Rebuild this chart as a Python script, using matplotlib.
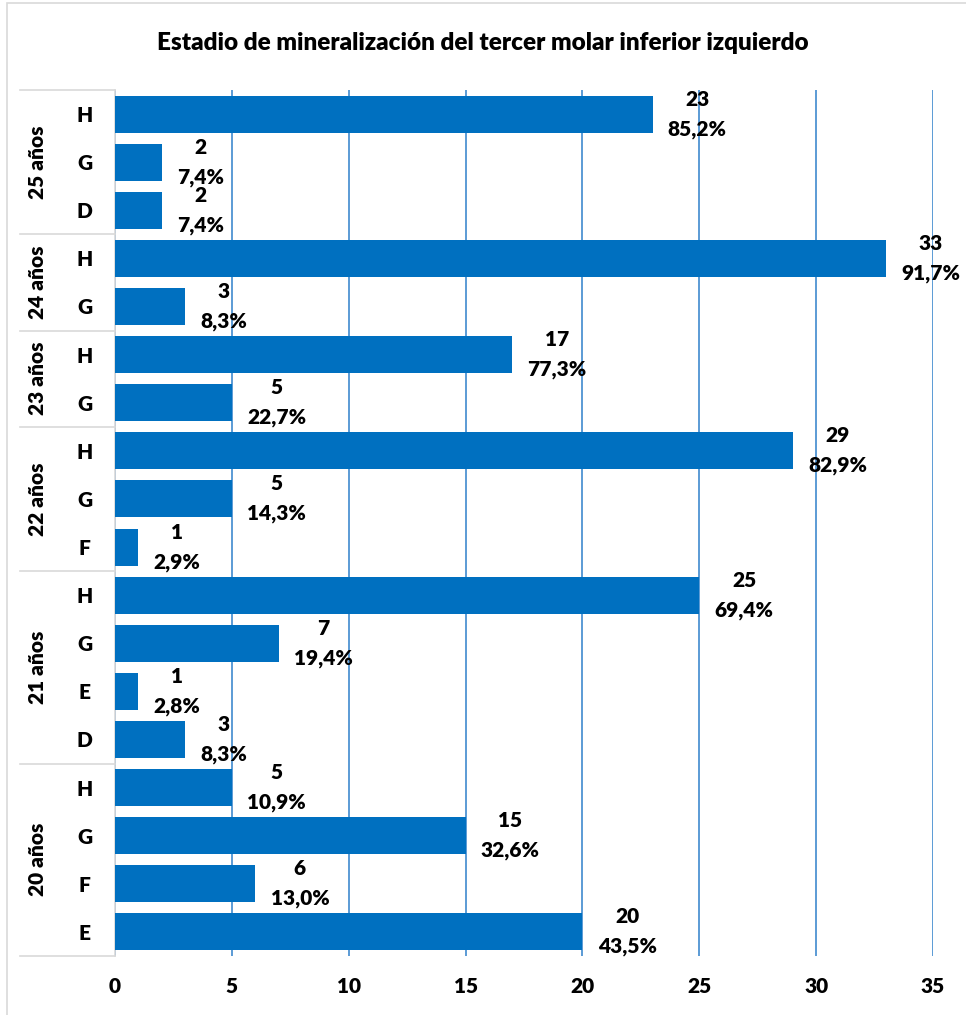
import matplotlib.pyplot as plt
from matplotlib.patches import Rectangle
import matplotlib.transforms as mtransforms

plt.rcParams['font.family'] = ['Lato', 'DejaVu Sans']
plt.rcParams['font.weight'] = 'heavy'

# rows from top to bottom
groups = ['25 años', '24 años', '23 años', '22 años', '21 años', '20 años']
stages = [['H', 'G', 'D'], ['H', 'G'], ['H', 'G'], ['H', 'G', 'F'],
          ['H', 'G', 'E', 'D'], ['H', 'G', 'F', 'E']]
counts = [[23, 2, 2], [33, 3], [17, 5], [29, 5, 1],
          [25, 7, 1, 3], [5, 15, 6, 20]]
pcts = [[85.2, 7.4, 7.4], [91.7, 8.3], [77.3, 22.7], [82.9, 14.3, 2.9],
        [69.4, 19.4, 2.8, 8.3], [10.9, 32.6, 13.0, 43.5]]

bar_col = '#0070C0'
grid_col = '#5B9BD5'
line_col = '#D9D9D9'

labels, vals, pc = [], [], []
for s, c, p in zip(stages, counts, pcts):
    labels += s
    vals += c
    pc += p
ypos = list(range(len(vals)))

fig = plt.figure(figsize=(9.66, 10.15), dpi=100)
fig.patches.append(Rectangle((7/966, -0.01), 1.0, 1 - 3/1015 + 0.01,
                             transform=fig.transFigure, fill=False,
                             edgecolor=line_col, linewidth=1.2))
ax = fig.add_axes([115/966, 1 - 956/1015, 818/966, 866/1015])

ax.barh(ypos, vals, height=0.77, color=bar_col, zorder=3)
ax.set_xlim(0, 35)
ax.set_ylim(len(vals) - 0.5, -0.5)
ax.set_xticks(range(0, 36, 5))
ax.set_yticks(ypos)
ax.set_yticklabels(labels, ha='center')
ax.tick_params(axis='y', length=0, pad=22, labelsize=15)
ax.tick_params(axis='x', length=0, pad=15, labelsize=15)
ax.grid(axis='x', color=grid_col, linewidth=1.4, zorder=0)
for sp in ['top', 'right', 'bottom']:
    ax.spines[sp].set_visible(False)
ax.spines['left'].set_color(line_col)
ax.spines['left'].set_linewidth(1.2)

# data labels: count over percentage
for y, v, p in zip(ypos, vals, pc):
    ax.annotate(f"{v}\n{p:.1f}%".replace('.', ','), xy=(v, y),
                xytext=(11, 0), textcoords='offset points',
                ha='left', va='center', multialignment='center',
                fontsize=15, fontweight='heavy', linespacing=1.65,
                zorder=5, annotation_clip=False)

# two-level category axis
trans = mtransforms.blended_transform_factory(ax.transAxes, ax.transData)
x_left = (20 - 115) / 818
start = 0
bounds = [-0.5]
for g, s in zip(groups, stages):
    end = start + len(s)
    bounds.append(end - 0.5)
    ax.text((38 - 115) / 818, (start + end - 1) / 2, g, transform=trans,
            rotation=90, ha='center', va='center', fontsize=15,
            fontweight='heavy')
    start = end
for b in bounds:
    ax.plot([x_left, 0], [b, b], transform=trans, color=line_col,
            linewidth=1.2, clip_on=False)

fig.text(0.5, 1 - 43/1015, 'Estadio de mineralización del tercer molar inferior izquierdo',
         ha='center', va='center', fontsize=17.5, fontweight='heavy')

fig.savefig('out.png', dpi=100)
